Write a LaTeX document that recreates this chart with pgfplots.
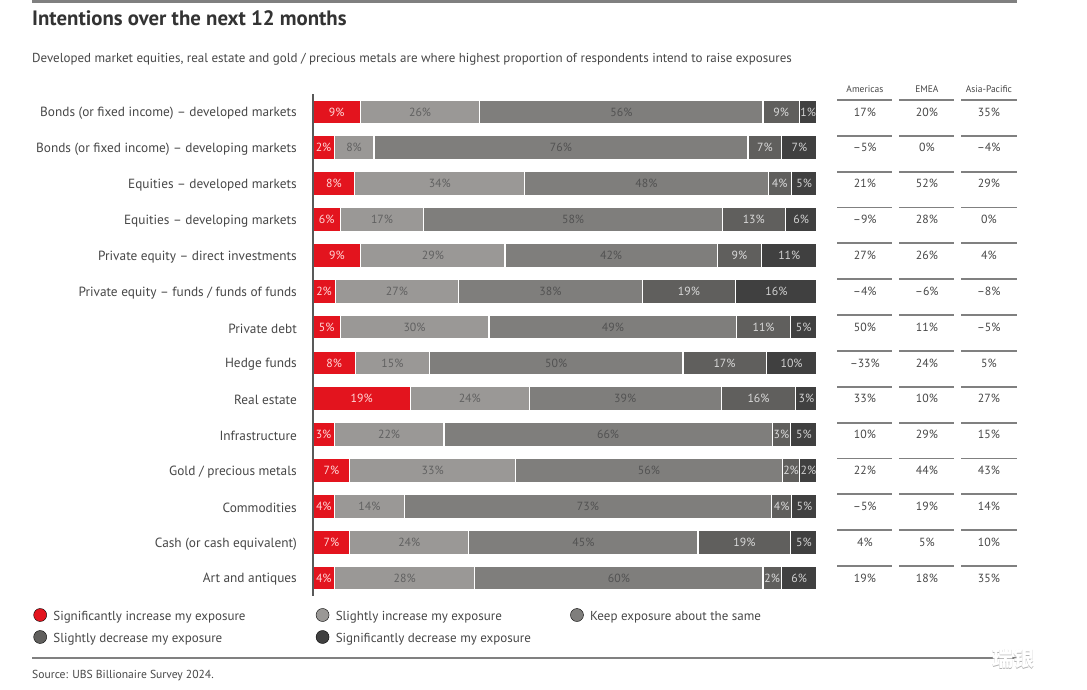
\documentclass[border=0pt]{standalone}
\usepackage{pgfplots}
\pgfplotsset{compat=1.18}
\usepackage{pgfplotstable}
\usepackage{fontspec}
\setmainfont{PT Sans}
\newfontfamily\cjk{Noto Sans CJK SC}

\definecolor{ubsred}{HTML}{E3141E}
\definecolor{g1}{HTML}{9A9896}
\definecolor{g2}{HTML}{7F7E7C}
\definecolor{g3}{HTML}{605F5D}
\definecolor{g4}{HTML}{404040}
\definecolor{txt}{HTML}{474747}
\definecolor{rule}{HTML}{808080}

% right edge of each segment (% of bar length, as drawn), printed labels, regional net values
\pgfplotstableread{
row c1   c2   c3   c4   c5  l1 l2 l3 l4 l5 am   em  ap
1   9.4  33.1 89.3 96.5 100 9  26 56 9  1  17   20  35
2   4.2  12.1 86.3 93.0 100 2  8  76 7  7  --5  0   --4
3   8.3  42.0 90.3 94.9 100 8  34 48 4  5  21   52  29
4   5.4  22.0 81.2 93.7 100 6  17 58 13 6  --9  28  0
5   9.5  38.1 80.2 89.0 100 9  29 42 9  11 27   26  4
6   4.4  28.9 65.3 83.9 100 2  27 38 19 16 --4  --6 --8
7   5.4  34.9 84.1 94.7 100 5  30 49 11 5  50   11  --5
8   8.4  23.1 73.4 89.9 100 8  15 50 17 10 --33 24  5
9   19.3 42.9 81.0 95.8 100 19 24 39 16 3  33   10  27
10  4.2  26.0 91.1 94.8 100 3  22 66 3  5  10   29  15
11  7.3  40.2 93.1 96.6 100 7  33 56 2  2  22   44  43
12  4.3  18.1 91.0 95.0 100 4  14 73 4  5  --5  19  14
13  7.3  30.9 76.4 94.8 100 7  24 45 19 5  4    5   10
14  4.3  32.1 89.3 92.9 100 4  28 60 2  6  19   18  35
}\data

\pgfplotsset{
  seg/.style={xbar, bar width=24bp, bar shift=0pt, draw=white, line width=1.2bp, fill=#1, forget plot},
  lab/.style={draw=none, mark=none, forget plot, point meta=explicit symbolic,
    nodes near coords={\pgfplotspointmeta\%},
    every node near coord/.append style={anchor=center, inner sep=0pt,
      font=\fontsize{11.8bp}{13bp}\selectfont, text=#1}},
}

\begin{document}
\begin{tikzpicture}[x=1bp, y=1bp]
\fill[white] (0,0) rectangle (1087,-690);
\path[use as bounding box] (0,0) rectangle (1087,-690);

\draw[rule, line width=2.5bp] (32,-1.5) -- (1017,-1.5);
\node[anchor=west, inner sep=0pt, text=black!80, font=\bfseries\fontsize{20.8bp}{23bp}\selectfont] at (32,-18) {Intentions over the next 12 months};
\node[anchor=west, inner sep=0pt, text=txt, font=\fontsize{13bp}{15bp}\selectfont] at (32,-59) {Developed market equities, real estate and gold / precious metals are where highest proportion of respondents intend to raise exposures};

\begin{axis}[
  at={(313bp,-94bp)}, anchor=north west,
  scale only axis, width=504bp, height=502bp,
  xmin=0, xmax=100, ymin=0.5, ymax=14.5, y dir=reverse,
  axis x line=none, axis y line=left,
  axis line style={-, draw=black!65, line width=1.5bp},
  axis on top, clip=false,
  ytick={1,...,14}, ytick style={draw=none}, major tick length=0pt,
  yticklabels={{Bonds (or fixed income) -- developed markets},{Bonds (or fixed income) -- developing markets},
    {Equities -- developed markets},{Equities -- developing markets},{Private equity -- direct investments},
    {Private equity -- funds / funds of funds},{Private debt},{Hedge funds},{Real estate},{Infrastructure},
    {Gold / precious metals},{Commodities},{Cash (or cash equivalent)},{Art and antiques}},
  yticklabel style={anchor=east, inner sep=0pt, xshift=-16bp, yshift=-1.5bp, text=txt, font=\fontsize{13.3bp}{15bp}\selectfont},
  legend image code/.code={\fill[#1] (6.5bp,1.5bp) circle (6.5bp);},
  legend columns=3,
  legend style={draw=none, fill=none, inner sep=0pt, outer sep=0pt,
    at={(-0.5546,-0.0189)}, anchor=north west, row sep=0bp,
    font=\fontsize{13bp}{15bp}\selectfont, text=txt,
    nodes={inner xsep=6.5bp, inner ysep=2bp, text height=13bp, text depth=5bp}},
]
% segments drawn from the right end backwards so each one covers the next
\addplot[seg=g4] table[x=c5, y=row] {\data};
\addplot[seg=g3] table[x=c4, y=row] {\data};
\addplot[seg=g2] table[x=c3, y=row] {\data};
\addplot[seg=g1] table[x=c2, y=row] {\data};
\addplot[seg=ubsred] table[x=c1, y=row] {\data};

\addplot[lab=red!15!white] table[x expr=\thisrow{c1}/2, y=row, meta=l1] {\data};
\addplot[lab=black!62] table[x expr=(\thisrow{c1}+\thisrow{c2})/2, y=row, meta=l2] {\data};
\addplot[lab=black!68] table[x expr=(\thisrow{c2}+\thisrow{c3})/2, y=row, meta=l3] {\data};
\addplot[lab=black!15] table[x expr=(\thisrow{c3}+\thisrow{c4})/2, y=row, meta=l4] {\data};
\addplot[lab=black!18] table[x expr=(\thisrow{c4}+\thisrow{c5})/2, y=row, meta=l5] {\data};

% regional columns
\addplot[lab=txt] table[x expr=109.5, y=row, meta=am] {\data};
\addplot[lab=txt] table[x expr=121.8, y=row, meta=em] {\data};
\addplot[lab=txt] table[x expr=134.1, y=row, meta=ap] {\data};
\node[text=txt, font=\fontsize{9.5bp}{11bp}\selectfont] at (axis cs:109.5,0.36) {Americas};
\node[text=txt, font=\fontsize{9.5bp}{11bp}\selectfont] at (axis cs:121.8,0.36) {EMEA};
\node[text=txt, font=\fontsize{9.5bp}{11bp}\selectfont] at (axis cs:134.1,0.36) {Asia-Pacific};
\pgfplotsinvokeforeach{1,...,14}{
  \draw[rule, line width=1.8bp] (axis cs:104.0,#1-0.335) -- (axis cs:114.9,#1-0.335);
  \draw[rule, line width=1.8bp] (axis cs:116.3,#1-0.335) -- (axis cs:127.2,#1-0.335);
  \draw[rule, line width=1.8bp] (axis cs:128.6,#1-0.335) -- (axis cs:139.7,#1-0.335);
}

\addlegendimage{fill=ubsred}
\addlegendentry{\makebox[256bp][l]{Significantly increase my exposure}}
\addlegendimage{fill=g1}
\addlegendentry{\makebox[228bp][l]{Slightly increase my exposure}}
\addlegendimage{fill=g2}
\addlegendentry{Keep exposure about the same}
\addlegendimage{fill=g3}
\addlegendentry{\makebox[256bp][l]{Slightly decrease my exposure}}
\addlegendimage{fill=g4}
\addlegendentry{\makebox[228bp][l]{Significantly decrease my exposure}}
\end{axis}

\draw[rule, line width=2bp] (32,-658) -- (1017,-658);
\node[anchor=west, inner sep=0pt, text=txt, font=\fontsize{11.6bp}{13bp}\selectfont] at (32,-676) {Source: UBS Billionaire Survey 2024.};
\node[text=black!30, font=\cjk\bfseries\fontsize{21bp}{23bp}\selectfont] at (1013.7,-659.7) {瑞银};
\node[text=white, font=\cjk\bfseries\fontsize{21bp}{23bp}\selectfont] at (1013,-659) {瑞银};
\end{tikzpicture}
\end{document}
